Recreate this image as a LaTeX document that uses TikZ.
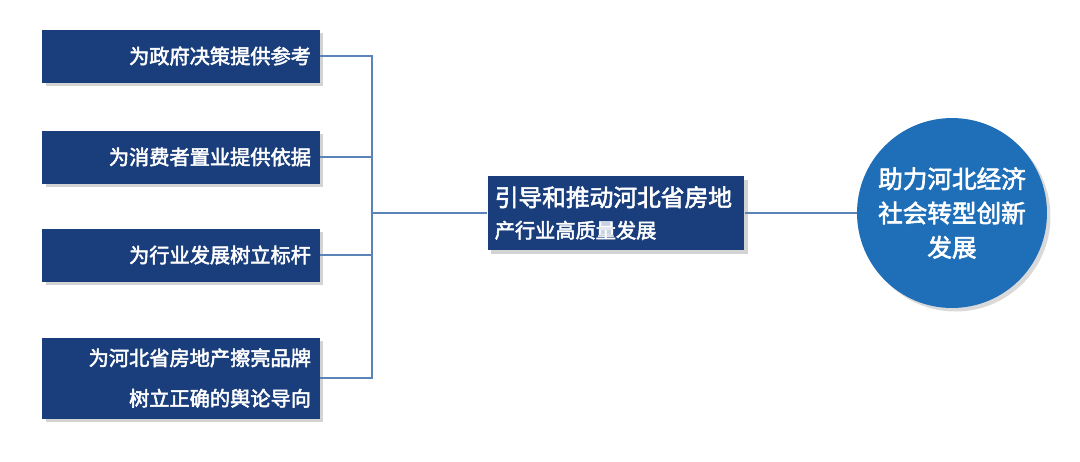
\documentclass[tikz,border=0pt]{standalone}
\usepackage{fontspec}
\newfontfamily\cjk{Noto Sans CJK SC}[FakeBold=2.5]
\usetikzlibrary{positioning,shadows}
\definecolor{navy}{HTML}{1A3D7C}
\definecolor{linkblue}{HTML}{5B84B8}
\definecolor{ballblue}{HTML}{1F6EB8}
\tikzset{
  aimbox/.style={fill=navy,text=white,font=\cjk\fontsize{11.5pt}{23pt}\selectfont,
    minimum width=5.56cm,align=right,inner xsep=5pt,drop shadow={opacity=0.35,shadow xshift=2pt,shadow yshift=-2pt}},
  link/.style={draw=linkblue,line width=1.5pt}
}
\begin{document}
\begin{tikzpicture}[x=0.02cm,y=-0.02cm]
  \useasboundingbox (0,0) rectangle (1080,461);
  % left boxes
  \node[aimbox,minimum height=1.06cm,text width=5.2cm] (gov) at (181,56) {为政府决策提供参考};
  \node[aimbox,minimum height=1.06cm,text width=5.2cm] (buyer) at (181,157) {为消费者置业提供依据};
  \node[aimbox,minimum height=1.06cm,text width=5.2cm] (trade) at (181,255) {为行业发展树立标杆};
  \node[aimbox,minimum height=1.62cm,text width=5.2cm] (brand) at (181,378) {为河北省房地产擦亮品牌\\树立正确的舆论导向};
  % bracket
  \coordinate (top) at (372,56);
  \coordinate (bot) at (372,378);
  \coordinate (mid) at (372,213);
  \draw[link] (gov.east) -- (top) -- (bot) -- (brand.east);
  \draw[link] (buyer.east) -- (buyer.east -| mid);
  \draw[link] (trade.east) -- (trade.east -| mid);
  % middle box
  \node[fill=navy,text=white,minimum width=5.04cm,minimum height=1.48cm,align=left,text width=4.85cm,
    inner xsep=4pt,font=\cjk,drop shadow={opacity=0.35,shadow xshift=2pt,shadow yshift=-2pt}] (lead) at (616,213)
    {\fontsize{13.5pt}{16pt}\selectfont 引导和推动河北省房地\\[6pt]\fontsize{11.5pt}{14pt}\selectfont 产行业高质量发展};
  \draw[link] (mid) -- (lead.west);
  % goal
  \node[circle,fill=ballblue,minimum size=3.8cm,text=white,align=center,
    font=\cjk\fontsize{14pt}{19.5pt}\selectfont,
    drop shadow={opacity=0.3,shadow xshift=2pt,shadow yshift=-2pt}] (goal) at (952,213)
    {助力河北经济\\社会转型创新\\发展};
  \draw[link] (lead.east) -- (goal.west);
\end{tikzpicture}
\end{document}
